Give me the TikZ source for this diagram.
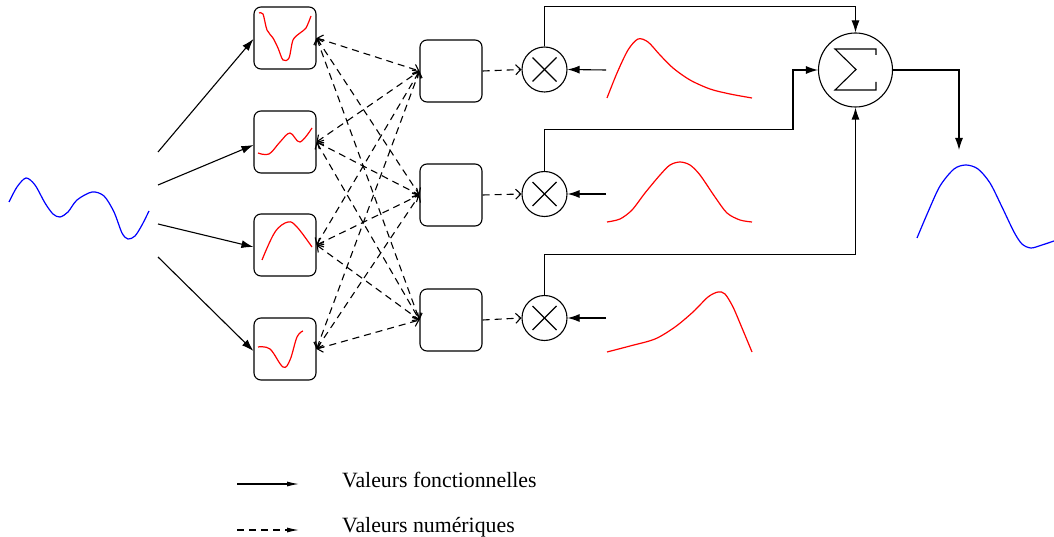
\documentclass[tikz,border=0pt]{standalone}
\usepackage{fontspec}
\setmainfont{Liberation Serif}
\usetikzlibrary{arrows.meta,calc}
\begin{document}
\begin{tikzpicture}[x=1pt,y=-1pt,
  lw/.style={line width=1.1pt},
  fbox/.style={draw,lw,rounded corners=7pt,minimum width=62pt,minimum height=62pt,inner sep=0pt},
  mult/.style={draw,lw,circle,minimum size=45pt,inner sep=0pt},
  sumc/.style={draw,lw,circle,minimum size=74pt,inner sep=0pt},
  fa/.style={lw,-{Latex[length=12pt,width=8pt]}},
  da/.style={lw,dash pattern=on 7pt off 5pt,{Straight Barb[length=5pt,width=10pt]}-{Straight Barb[length=5pt,width=10pt]}},
  dr/.style={lw,dash pattern=on 7pt off 5pt,-{Straight Barb[length=5pt,width=10pt]}},
  legs/.style={lw,-{Latex[length=12pt,width=5pt]}},
  legd/.style={lw,dash pattern=on 7pt off 5pt,-{Latex[length=12pt,width=5pt]}},
  redc/.style={red,line width=1.2pt},
  bluec/.style={blue,line width=1.2pt},
  lbl/.style={font=\fontsize{21.8}{26}\selectfont,inner sep=0pt,anchor=base west}]
\useasboundingbox (0,0) rectangle (1054,537);

% filter boxes
\node[fbox] (f1) at (285,38) {};
\node[fbox] (f2) at (285,142) {};
\node[fbox] (f3) at (285,245) {};
\node[fbox] (f4) at (285,349) {};
% middle boxes
\node[fbox] (m1) at (451,71) {};
\node[fbox] (m2) at (451,195) {};
\node[fbox] (m3) at (451,320) {};
% multipliers
\node[mult] (x1) at (544.5,69.5) {};
\node[mult] (x2) at (544.5,194) {};
\node[mult] (x3) at (544.5,318) {};
\foreach \n in {x1,x2,x3}{
  \draw[lw] ($(\n)+(-12,-12)$) -- ($(\n)+(12,12)$);
  \draw[lw] ($(\n)+(-12,12)$) -- ($(\n)+(12,-12)$);
}
% sum
\node[sumc] (s) at (855.5,70) {};
\draw[lw] (876,55) -- (876,49) -- (835,49) -- (856,69.5) -- (835,90) -- (876,90) -- (876,82);

% input signal
\draw[bluec] plot[smooth,tension=0.5] coordinates {(9,202) (17,187) (26,178) (35,185) (45,203) (53,214) (60,217) (68,212) (77,200) (92,192) (104,196) (114,212) (122,233) (128,239) (135,236) (142,225) (149,211)};
% output signal
\draw[bluec] plot[smooth,tension=0.5] coordinates {(917,238) (928,212) (940,186) (954,169) (966,165) (978,169) (990,183) (1002,207) (1014,232) (1022,244) (1031,248) (1042,245) (1054,241)};

% input arrows
\coordinate (i1) at (158,152);
\coordinate (i2) at (158,185);
\coordinate (i3) at (158,224);
\coordinate (i4) at (158,257);
\draw[fa] (i1) -- ($(f1.west)+(0,1)$);
\draw[fa] (i2) -- ($(f2.west)+(0,3)$);
\draw[fa] (i3) -- ($(f3.west)+(0,2)$);
\draw[fa] (i4) -- ($(f4.west)+(0,2)$);

% red curves in filter boxes
\draw[redc] plot[smooth,tension=0.5] coordinates {(259,13) (263,14) (267,30) (273,38) (278,48) (283,60) (289,58) (293,40) (300,33) (306,28) (311,16)};
\draw[redc] plot[smooth,tension=0.6] coordinates {(258,153) (269,154) (280,142) (290,133) (300,142) (312,128)};
\draw[redc] plot[smooth,tension=0.6] coordinates {(262,260) (275,232) (288,222) (297,227) (312,247)};
\draw[redc] plot[smooth,tension=0.6] coordinates {(258,347) (270,349) (283,367) (290,360) (297,337) (303,331)};

% dashed filter <-> middle
\foreach \f in {f1,f2,f3,f4}{
  \foreach \m in {m1,m2,m3}{
    \draw[da] (\f.east) -- (\m.west);
  }
}
% dashed middle -> multipliers
\draw[dr] (m1.east) -- (x1.west);
\draw[dr] (m2.east) -- (x2.west);
\draw[dr] (m3.east) -- (x3.west);

% red weight curves
\coordinate (r1) at (606,70);
\coordinate (r2) at (606,194);
\coordinate (r3) at (606,318);
\draw[fa] (r1) -- (x1.east);
\draw[fa] (r2) -- (x2.east);
\draw[fa] (r3) -- (x3.east);
\draw[redc] plot[smooth,tension=0.5] coordinates {(607,98) (617,73) (628,50) (638,39) (648,42) (660,55) (673,68) (690,80) (710,89) (730,94) (752,98)};
\draw[redc] plot[smooth,tension=0.5] coordinates {(607,222) (620,219) (632,210) (645,193) (660,175) (670,165) (680,162) (690,165) (700,175) (715,197) (727,213) (740,220) (752,222)};
\draw[redc] plot[smooth,tension=0.5] coordinates {(607,352) (630,346) (655,339) (675,327) (693,312) (708,297) (718,292) (725,294) (733,307) (742,328) (752,352)};

% to sum
\draw[fa] (x1.north) -- ++(0,-40) -| (s.north);
\draw[fa] (x2.north) -- ++(0,-41) -- ++(248.5,0) |- (s.west);
\draw[fa] (x3.north) -- ++(0,-40) -| (s.south);
\coordinate (o) at (959,150);
\draw[fa] (s.east) -| (o);

% legend
\coordinate (la1) at (237,484);
\coordinate (la2) at (299,484);
\coordinate (lb1) at (237,530);
\coordinate (lb2) at (299,530);
\draw[legs] (la1) -- (la2);
\draw[legd] (lb1) -- (lb2);
\node[lbl] (t1) at (342,487) {Valeurs fonctionnelles};
\node[lbl] (t2) at (342,532) {Valeurs numériques};
\end{tikzpicture}
\end{document}
